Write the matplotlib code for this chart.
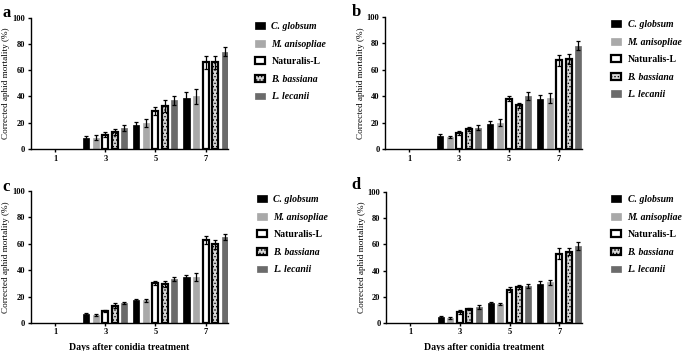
import numpy as np
import matplotlib
matplotlib.use('Agg')
import matplotlib.pyplot as plt

plt.rcParams['font.family'] = ['Liberation Serif', 'DejaVu Serif']
plt.rcParams['hatch.linewidth'] = 0.6

# data
days = [1, 3, 5, 7]
strains = ['C. globsum', 'M. anisopliae', 'Naturalis-L', 'B. bassiana', 'L. lecanii']

a_mean = [[0, 8, 18.5, 38.5],
          [0, 8.5, 20, 40],
          [0, 11, 29, 66],
          [0, 13, 33, 66],
          [0, 16, 37, 74]]
a_err = [[0, 2, 2, 5],
         [0, 2, 3, 6],
         [0, 2, 3, 5],
         [0, 2.5, 4.5, 5],
         [0, 2, 3.5, 3.5]]

b_mean = [[0, 10, 19, 38],
          [0, 9, 20, 38.5],
          [0, 12, 38, 67],
          [0, 15, 33, 68],
          [0, 16, 40, 78]]
b_err = [[0, 1.5, 2, 3],
         [0, 1, 2.5, 4],
         [0, 1.5, 2, 4],
         [0, 1.5, 2, 4],
         [0, 2, 3, 3.5]]

c_mean = [[0, 6.5, 17, 34.5],
          [0, 6, 17, 35],
          [0, 9, 30.5, 62.5],
          [0, 13, 29.5, 59.5],
          [0, 15, 33.5, 65]]
c_err = [[0, 0.7, 1, 2],
         [0, 0.5, 1.5, 3],
         [0, 1, 1.5, 3],
         [0, 2, 2, 3.5],
         [0, 1, 1.5, 2.5]]

d_mean = [[0, 4.5, 15, 30],
          [0, 4, 14.5, 31],
          [0, 8.5, 25.5, 53],
          [0, 10.5, 27.5, 54.5],
          [0, 12, 28, 58.5]]
d_err = [[0, 0.7, 1, 2],
         [0, 0.7, 0.8, 2],
         [0, 1.5, 2, 4],
         [0, 1, 1.5, 3],
         [0, 1.5, 1.5, 3]]

# bar styles per strain
styles = [dict(color='black', edgecolor='black', linewidth=0.5),
          dict(color='#a9a9a9', edgecolor='#a9a9a9', linewidth=0.5),
          dict(color='white', edgecolor='black', linewidth=1.6),
          dict(color='#d8d8d8', edgecolor='black', linewidth=1.6, hatch='.....'),
          dict(color='#6b6b6b', edgecolor='#6b6b6b', linewidth=0.5)]

fig = plt.figure(figsize=(6.85, 3.51), dpi=100)

panels = [('a', a_mean, a_err, [0.045, 0.5755, 0.288, 0.374], (0.372, 0.937), (0.004, 0.985)),
          ('b', b_mean, b_err, [0.562, 0.5755, 0.287, 0.377], (0.892, 0.943), (0.513, 0.99)),
          ('c', c_mean, c_err, [0.045, 0.080, 0.288, 0.376], (0.375, 0.444), (0.004, 0.49)),
          ('d', d_mean, d_err, [0.5635, 0.080, 0.2855, 0.373], (0.892, 0.444), (0.513, 0.495))]

width = 0.24
step = 0.38
x = np.array(days, dtype=float)

for letter, mean, err, pos, legpos, letpos in panels:
    ax = fig.add_axes(pos)
    for i, name in enumerate(strains):
        off = (i - 2) * step
        m = np.array(mean[i], dtype=float)
        e = np.array(err[i], dtype=float)
        keep = m > 0   # day 1 has no mortality, nothing drawn there
        ax.bar(x[keep] + off, m[keep], width, label=name, **styles[i])
        ax.errorbar(x[keep] + off, m[keep], yerr=e[keep], fmt='none',
                    ecolor='black', elinewidth=0.9, capsize=1.6, capthick=0.9)
    ax.set_xlim(0.03, 7.9)
    ax.set_ylim(0, 100)
    ax.set_yticks([0, 20, 40, 60, 80, 100])
    ax.set_xticks(days)
    ax.spines['top'].set_visible(False)
    ax.spines['right'].set_visible(False)
    for s in ['left', 'bottom']:
        ax.spines[s].set_linewidth(1.0)
    ax.tick_params(labelsize=6, width=1.0, length=2.5, pad=1.5)
    for lab in ax.get_xticklabels() + ax.get_yticklabels():
        lab.set_fontweight('bold')
    ax.set_ylabel('Corrected aphid mortality (%)', fontsize=6.6, labelpad=1.5)
    if letter in ('c', 'd'):
        ax.set_xlabel('Days after conidia treatment', fontsize=7, fontweight='bold', labelpad=5)
    leg = ax.legend(loc='upper left', bbox_to_anchor=legpos, bbox_transform=fig.transFigure,
                    frameon=False, fontsize=7, handlelength=1.05, handleheight=0.7,
                    handletextpad=0.65, labelspacing=0.88, borderpad=0, borderaxespad=0)
    for t in leg.get_texts():
        t.set_fontweight('bold')
        if t.get_text() != 'Naturalis-L':
            t.set_fontstyle('italic')
    fig.text(letpos[0], letpos[1], letter, fontsize=12, fontweight='bold', va='top', ha='left')

fig.savefig('out.png', dpi=100)
